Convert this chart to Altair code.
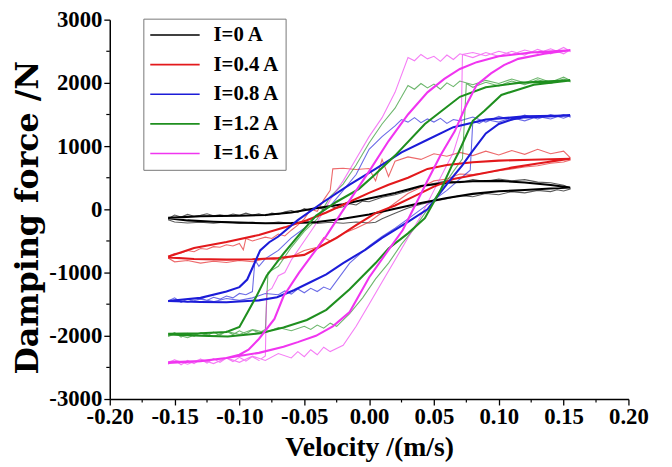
import altair as alt
import pandas as pd

currents = ["I=0 A", "I=0.4 A", "I=0.8 A", "I=1.2 A", "I=1.6 A"]
colors = ["#000000", "#e3191c", "#1c1cd8", "#1f8f1f", "#f035f0"]

x_ticks = [-0.20, -0.15, -0.10, -0.05, 0.0, 0.05, 0.10, 0.15, 0.20]
x_minor = [-0.175, -0.125, -0.075, -0.025, 0.025, 0.075, 0.125, 0.175]
y_ticks = [-3000, -2000, -1000, 0, 1000, 2000, 3000]
y_minor = [-2500, -1500, -500, 500, 1500, 2500]

# ---- model (thick) loops: (velocity, force) ----
bk_model = [(-0.155,-135),(-0.13,-110),(-0.10,-100),(-0.08,-90),(-0.06,-50),(-0.04,20),(-0.02,80),(0.0,170),(0.02,260),(0.04,370),(0.06,420),(0.08,445),(0.10,450),(0.12,425),(0.14,385),(0.155,345),
            (0.14,330),(0.12,305),(0.10,285),(0.08,245),(0.06,180),(0.04,100),(0.02,10),(0.0,-80),(-0.02,-150),(-0.04,-200),(-0.06,-215),(-0.08,-220),(-0.10,-210),(-0.12,-195),(-0.14,-175),(-0.155,-140)]
rd_model = [(-0.155,-750),(-0.135,-610),(-0.11,-515),(-0.085,-405),(-0.065,-285),(-0.048,-172),(-0.033,-50),(-0.015,120),(0.0,260),(0.015,390),(0.03,500),(0.045,640),(0.06,700),(0.08,745),(0.10,770),(0.125,785),(0.155,800),
            (0.13,725),(0.11,660),(0.085,560),(0.065,480),(0.05,360),(0.035,210),(0.02,60),(0.005,-60),(-0.01,-250),(-0.025,-450),(-0.035,-560),(-0.05,-720),(-0.07,-770),(-0.09,-790),(-0.11,-795),(-0.135,-785),(-0.155,-760)]
bl_model = [(-0.155,-1450),(-0.13,-1400),(-0.11,-1300),(-0.10,-1230),(-0.094,-1110),(-0.089,-880),(-0.084,-650),(-0.077,-520),(-0.07,-430),(-0.055,-170),(-0.035,120),(-0.015,390),(0.005,640),(0.025,900),(0.045,1100),(0.065,1300),(0.09,1420),(0.12,1470),(0.155,1485),
            (0.12,1455),(0.11,1420),(0.10,1350),(0.09,1200),(0.079,900),(0.072,700),(0.06,400),(0.045,0),(0.03,-200),(0.01,-450),(-0.003,-640),(-0.02,-850),(-0.033,-1030),(-0.045,-1150),(-0.058,-1280),(-0.071,-1390),(-0.085,-1440),(-0.11,-1470),(-0.13,-1465),(-0.155,-1450)]
gr_model = [(-0.155,-1970),(-0.13,-1960),(-0.11,-1940),(-0.10,-1860),(-0.094,-1640),(-0.087,-1380),(-0.079,-1050),(-0.066,-700),(-0.053,-380),(-0.041,-100),(-0.025,120),(-0.008,320),(0.005,560),(0.02,850),(0.043,1350),(0.07,1780),(0.09,1930),(0.115,2000),(0.155,2040),
            (0.127,1970),(0.102,1810),(0.089,1560),(0.08,1400),(0.069,900),(0.064,700),(0.055,300),(0.043,-140),(0.03,-380),(0.015,-620),(0.005,-850),(-0.015,-1265),(-0.033,-1590),(-0.048,-1750),(-0.066,-1870),(-0.084,-1960),(-0.109,-2010),(-0.13,-2000),(-0.155,-1980)]
mg_model = [(-0.155,-2420),(-0.13,-2400),(-0.11,-2350),(-0.10,-2300),(-0.093,-2220),(-0.085,-2050),(-0.073,-1734),(-0.066,-1375),(-0.054,-1000),(-0.041,-640),(-0.033,-420),(-0.018,50),(0.0,600),(0.015,1080),(0.03,1500),(0.045,1850),(0.058,2062),(0.07,2220),(0.083,2328),(0.10,2420),(0.125,2480),(0.155,2515),
            (0.135,2460),(0.115,2380),(0.104,2281),(0.094,2150),(0.083,1969),(0.075,1650),(0.066,1234),(0.055,850),(0.045,453),(0.026,-328),(0.015,-640),(0.0,-1078),(-0.015,-1625),(-0.028,-1850),(-0.041,-2000),(-0.055,-2100),(-0.066,-2172),(-0.085,-2270),(-0.11,-2350),(-0.13,-2400),(-0.155,-2430)]

# ---- experimental (thin) loops ----
bk_exp = [(-0.155,-150),(-0.15,-90),(-0.145,-120),(-0.14,-80),(-0.135,-110),(-0.13,-95),(-0.125,-70),(-0.12,-100),(-0.115,-85),(-0.11,-105),(-0.105,-75),(-0.10,-95),(-0.095,-60),(-0.09,-90),(-0.085,-70),(-0.08,-100),(-0.075,-60),(-0.07,-80),(-0.065,-40),(-0.06,-20),(-0.055,-50),(-0.05,10),(-0.045,-20),(-0.04,30),(-0.035,0),(-0.03,50),(-0.025,20),(-0.02,40),(-0.015,90),(-0.01,70),(-0.005,130),(0.0,120),(0.01,190),(0.02,230),(0.03,290),(0.04,360),(0.05,410),(0.06,450),(0.07,420),(0.08,470),(0.09,440),(0.10,480),(0.11,450),(0.12,470),(0.13,430),(0.14,420),(0.15,380),(0.155,340),
          (0.155,320),(0.15,290),(0.145,310),(0.14,280),(0.13,300),(0.12,260),(0.11,280),(0.10,230),(0.09,250),(0.08,200),(0.07,220),(0.06,170),(0.05,130),(0.04,80),(0.03,20),(0.02,-60),(0.01,-150),(0.005,-205),(0.0,-215),(-0.01,-200),(-0.02,-220),(-0.03,-205),(-0.04,-225),(-0.05,-210),(-0.06,-220),(-0.07,-200),(-0.08,-225),(-0.09,-205),(-0.10,-215),(-0.11,-200),(-0.12,-220),(-0.13,-205),(-0.14,-215),(-0.15,-200),(-0.155,-165)]
rd_exp = [(-0.155,-740),(-0.15,-700),(-0.145,-690),(-0.14,-650),(-0.135,-670),(-0.13,-620),(-0.125,-630),(-0.12,-590),(-0.115,-600),(-0.11,-560),(-0.105,-580),(-0.10,-540),(-0.097,-640),(-0.095,-460),(-0.09,-500),(-0.085,-470),(-0.08,-440),(-0.075,-460),(-0.07,-390),(-0.065,-420),(-0.06,-330),(-0.055,-250),(-0.05,-150),(-0.045,0),(-0.04,-30),(-0.035,150),(-0.03,300),(-0.028,640),(-0.02,650),(-0.01,630),(0.0,645),(0.005,450),(0.01,790),(0.015,520),(0.02,760),(0.03,830),(0.04,790),(0.05,880),(0.06,840),(0.07,900),(0.08,850),(0.09,920),(0.10,860),(0.11,930),(0.12,870),(0.13,950),(0.14,880),(0.15,920),(0.155,820),
          (0.155,780),(0.15,750),(0.14,730),(0.13,690),(0.12,670),(0.11,640),(0.10,610),(0.09,580),(0.08,550),(0.07,560),(0.06,480),(0.05,450),(0.04,350),(0.03,250),(0.02,100),(0.01,-50),(0.0,-200),(-0.01,-300),(-0.02,-380),(-0.03,-500),(-0.035,-450),(-0.04,-600),(-0.05,-650),(-0.06,-750),(-0.07,-800),(-0.08,-780),(-0.09,-830),(-0.10,-810),(-0.11,-840),(-0.12,-820),(-0.13,-850),(-0.14,-810),(-0.15,-830),(-0.155,-770)]
bl_exp = [(-0.155,-1450),(-0.15,-1400),(-0.145,-1470),(-0.14,-1420),(-0.135,-1460),(-0.13,-1400),(-0.125,-1440),(-0.12,-1390),(-0.115,-1420),(-0.11,-1370),(-0.105,-1400),(-0.10,-1330),(-0.095,-1350),(-0.09,-1300),(-0.088,-800),(-0.085,-900),(-0.08,-780),(-0.07,-650),(-0.06,-450),(-0.05,-300),(-0.04,-100),(-0.03,50),(-0.02,300),(-0.01,550),(0.0,950),(0.01,1150),(0.02,1320),(0.025,1420),(0.03,1380),(0.035,1450),(0.04,1370),(0.045,1430),(0.05,1380),(0.055,1440),(0.06,1360),(0.065,1420),(0.07,1400),(0.08,1460),(0.09,1380),(0.10,1470),(0.11,1410),(0.12,1490),(0.13,1430),(0.14,1500),(0.15,1440),(0.155,1480),
          (0.155,1460),(0.15,1500),(0.14,1430),(0.13,1470),(0.12,1400),(0.11,1450),(0.10,1380),(0.09,1420),(0.085,1360),(0.08,1400),(0.078,620),(0.07,480),(0.06,300),(0.05,150),(0.04,0),(0.03,-150),(0.02,-300),(0.01,-430),(0.0,-580),(-0.015,-850),(-0.03,-1270),(-0.035,-1230),(-0.04,-1300),(-0.045,-1250),(-0.05,-1320),(-0.055,-1260),(-0.06,-1340),(-0.065,-1290),(-0.07,-1350),(-0.08,-1330),(-0.09,-1400),(-0.10,-1440),(-0.11,-1410),(-0.12,-1460),(-0.13,-1420),(-0.14,-1470),(-0.15,-1430),(-0.155,-1460)]
gr_exp = [(-0.155,-2000),(-0.15,-1950),(-0.145,-2020),(-0.14,-1960),(-0.135,-2010),(-0.13,-1950),(-0.125,-2000),(-0.12,-1940),(-0.115,-1990),(-0.11,-1930),(-0.105,-1980),(-0.10,-1920),(-0.095,-1970),(-0.09,-1910),(-0.085,-1950),(-0.08,-1900),(-0.078,-1000),(-0.07,-900),(-0.06,-600),(-0.05,-350),(-0.04,-150),(-0.03,200),(-0.02,400),(-0.01,700),(0.0,1050),(0.01,1350),(0.02,1600),(0.03,1960),(0.035,1900),(0.04,1990),(0.045,1920),(0.05,1980),(0.055,1900),(0.06,2000),(0.065,1940),(0.07,2030),(0.08,1970),(0.09,2040),(0.10,1990),(0.11,2060),(0.12,2000),(0.13,2080),(0.14,2010),(0.15,2090),(0.155,2040),
          (0.155,2020),(0.15,2060),(0.14,1990),(0.13,2050),(0.12,1970),(0.11,2030),(0.10,1950),(0.09,2010),(0.08,1930),(0.075,1990),(0.072,800),(0.065,600),(0.055,300),(0.045,0),(0.035,-300),(0.025,-550),(0.015,-850),(0.005,-1100),(-0.005,-1400),(-0.015,-1650),(-0.025,-1850),(-0.03,-1800),(-0.035,-1880),(-0.04,-1830),(-0.045,-1900),(-0.05,-1850),(-0.06,-1920),(-0.07,-1870),(-0.08,-1950),(-0.09,-1900),(-0.10,-1980),(-0.11,-1930),(-0.12,-2010),(-0.13,-1950),(-0.14,-2030),(-0.15,-1970),(-0.155,-2010)]
mg_exp = [(-0.155,-2450),(-0.15,-2380),(-0.145,-2460),(-0.14,-2390),(-0.135,-2440),(-0.13,-2370),(-0.125,-2430),(-0.12,-2360),(-0.115,-2420),(-0.11,-2350),(-0.105,-2410),(-0.10,-2340),(-0.095,-2400),(-0.09,-2330),(-0.085,-2390),(-0.08,-2320),(-0.079,-1300),(-0.075,-1250),(-0.07,-1050),(-0.065,-1000),(-0.06,-800),(-0.05,-500),(-0.04,-200),(-0.03,150),(-0.02,450),(-0.01,800),(0.0,1150),(0.01,1450),(0.02,1850),(0.03,2400),(0.035,2350),(0.04,2450),(0.045,2380),(0.05,2420),(0.055,2340),(0.06,2440),(0.065,2370),(0.07,2460),(0.08,2400),(0.09,2480),(0.10,2420),(0.11,2500),(0.12,2440),(0.13,2530),(0.14,2460),(0.15,2560),(0.155,2500),
          (0.155,2520),(0.15,2460),(0.14,2540),(0.13,2470),(0.12,2520),(0.11,2450),(0.10,2500),(0.09,2430),(0.08,2480),(0.072,2450),(0.071,1300),(0.068,1100),(0.065,900),(0.06,700),(0.05,300),(0.04,-100),(0.03,-450),(0.02,-800),(0.01,-1150),(0.0,-1500),(-0.01,-1850),(-0.02,-2150),(-0.03,-2250),(-0.035,-2180),(-0.04,-2300),(-0.045,-2220),(-0.05,-2330),(-0.055,-2250),(-0.06,-2350),(-0.07,-2280),(-0.08,-2390),(-0.09,-2320),(-0.10,-2420),(-0.11,-2350),(-0.12,-2440),(-0.13,-2370),(-0.14,-2450),(-0.15,-2380),(-0.155,-2420)]

models = [bk_model, rd_model, bl_model, gr_model, mg_model]
exps = [bk_exp, rd_exp, bl_exp, gr_exp, mg_exp]


def frame(loops):
    rows = []
    for name, pts in zip(currents, loops):
        for i, (v, f) in enumerate(pts):
            rows.append({"v": v, "F": f, "current": name, "idx": i})
    return pd.DataFrame(rows)


model_df = frame(models)
exp_df = frame(exps)

FONT = "Liberation Serif"
W, H = 525, 384

x_axis = alt.Axis(
    values=x_ticks,
    labelExpr="datum.value < 0 ? '-' + format(-datum.value, '.2f') : format(datum.value, '.2f')",
    labelOverlap=False, labelFlush=False, labelBound=False,
    labelFont=FONT, labelFontWeight="bold", labelFontSize=23, labelColor="black",
    labelPadding=1, tickSize=6, tickColor="black", tickWidth=1.3,
    domainColor="black", domainWidth=1.5, grid=False,
    title="Velocity /(m/s)", titleFont=FONT, titleFontSize=28, titleFontWeight="bold",
    titleColor="black", titleY=49, titleBaseline="middle",
)
y_axis = alt.Axis(
    values=y_ticks,
    labelExpr="datum.value < 0 ? '-' + format(-datum.value, 'd') : format(datum.value, 'd')",
    labelOverlap=False, labelFlush=False, labelBound=False,
    labelFont=FONT, labelFontWeight="bold", labelFontSize=23, labelColor="black",
    labelPadding=2, tickSize=6, tickColor="black", tickWidth=1.3,
    domainColor="black", domainWidth=1.5, grid=False,
    title="Damping force /N", titleFont="DejaVu Serif", titleFontSize=32, titleFontWeight="bold",
    titleColor="black", titleX=-83, titleY=200, titleAngle=-90,
    titleBaseline="middle", titleAlign="center",
)

xs = alt.Scale(domain=[-0.2, 0.2], nice=False, zero=False)
ys = alt.Scale(domain=[-3000, 3000], nice=False, zero=False)
X = alt.X("v:Q", scale=xs, axis=x_axis)
Y = alt.Y("F:Q", scale=ys, axis=y_axis)

thin = alt.Chart(exp_df).mark_line(strokeWidth=1.1, opacity=0.65, clip=True).encode(
    x=X, y=Y,
    color=alt.Color("current:N", scale=alt.Scale(domain=currents, range=colors), legend=None),
    detail="current:N", order="idx:Q",
)

thick = alt.Chart(model_df).mark_line(strokeWidth=2.1, clip=True).encode(
    x=X, y=Y,
    color=alt.Color(
        "current:N",
        scale=alt.Scale(domain=currents, range=colors),
        legend=alt.Legend(
            title=None, orient="none", legendX=34, legendY=-1,
            symbolType="stroke", symbolSize=2500, symbolStrokeWidth=1.7,
            clipHeight=21, rowPadding=8, labelOffset=13,
            labelFont=FONT, labelFontSize=21, labelFontWeight="bold", labelColor="black",
            strokeColor="#777777", fillColor="white", padding=6,
        ),
    ),
    detail="current:N", order="idx:Q",
)

xminor = alt.Chart(pd.DataFrame({"v": x_minor})).mark_rule(color="black", strokeWidth=1.2).encode(
    x=X, y=alt.value(H), y2=alt.value(H + 3.5)
)
yminor = alt.Chart(pd.DataFrame({"F": y_minor})).mark_rule(color="black", strokeWidth=1.2).encode(
    y=Y, x=alt.value(0), x2=alt.value(-3.5)
)

chart = (
    alt.layer(thin, thick, xminor, yminor)
    .resolve_scale(color="independent")
    .properties(
        width=W, height=H,
        autosize=alt.AutoSizeParams(type="none"),
        padding={"left": 103, "top": 9, "right": 36, "bottom": 66},
        background="white",
    )
    .configure_view(stroke=None)
)

chart.save("out.html", embed_options={"renderer": "svg", "actions": False})
